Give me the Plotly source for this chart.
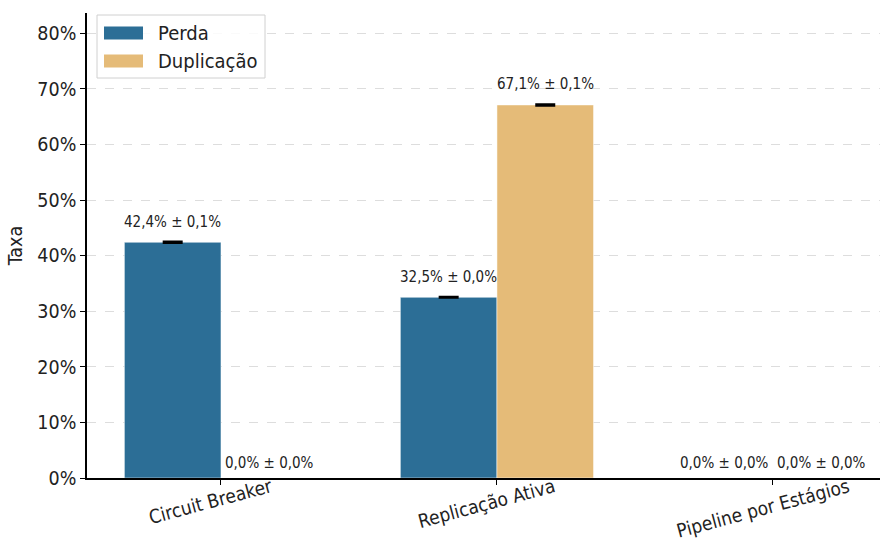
import plotly.graph_objects as go

categories = ["Circuit Breaker", "Replicação Ativa", "Pipeline por Estágios"]
series_names = ["Perda", "Duplicação"]
perda = [0.424, 0.325, 0.0]
perda_err = [0.001, 0.0005, 0.0]
dup = [0.0, 0.671, 0.0]
dup_err = [0.0, 0.001, 0.0]
labels_perda = ["42,4% ± 0,1%", "32,5% ± 0,0%", "0,0% ± 0,0%"]
labels_dup = ["0,0% ± 0,0%", "67,1% ± 0,1%", "0,0% ± 0,0%"]
y_ticks = [0, 0.1, 0.2, 0.3, 0.4, 0.5, 0.6, 0.7, 0.8]
y_ticktext = ["0%", "10%", "20%", "30%", "40%", "50%", "60%", "70%", "80%"]

FONT = "DejaVu Sans Condensed, DejaVu Sans, sans-serif"
C_PERDA = "#2c6e96"
C_DUP = "#e5bb78"
BW = 0.35

xs = list(range(len(categories)))

fig = go.Figure()
for vals, errs, nm, col, off in [(perda, perda_err, series_names[0], C_PERDA, -BW / 2),
                                 (dup, dup_err, series_names[1], C_DUP, BW / 2)]:
    bx = [x + off for x in xs]
    fig.add_trace(go.Bar(
        x=bx, y=vals, width=BW, name=nm,
        marker=dict(color=col, line=dict(color="white", width=0.5)),
        showlegend=False,
    ))
    # error bars only where a bar is visible (zero bars' caps are hidden by the axis in the reference)
    ex = [x for x, v in zip(bx, vals) if v > 0]
    ey = [v for v in vals if v > 0]
    ee = [e for v, e in zip(vals, errs) if v > 0]
    fig.add_trace(go.Scatter(
        x=ex, y=ey, mode="markers", marker=dict(size=0.1, color="rgba(0,0,0,0)"),
        error_y=dict(type="data", array=ee, color="black", thickness=2.5, width=10),
        showlegend=False, hoverinfo="skip",
    ))

annotations = []
for vals, errs, labs, off in [(perda, perda_err, labels_perda, -BW / 2), (dup, dup_err, labels_dup, BW / 2)]:
    for x, v, e, t in zip(xs, vals, errs, labs):
        annotations.append(dict(
            x=x + off, y=v + e, xref="x", yref="y", text=t, showarrow=False,
            yanchor="middle", yshift=20 if v > 0 else 15,
            font=dict(family=FONT, size=15, color="#222"),
        ))

# category labels, rotated and centred under their ticks
for x, c in zip(xs, categories):
    annotations.append(dict(
        x=x, y=0, xref="x", yref="paper", text=c, showarrow=False, textangle=-15,
        xanchor="center", yanchor="top", yshift=5, xshift=-10, borderpad=0,
        font=dict(family=FONT, size=19, color="#222"),
    ))

# custom legend (wide swatches like matplotlib)
shapes = [dict(type="rect", xref="paper", yref="paper",
               x0=(97 - 87) / 793, x1=(265 - 87) / 793, y0=(478 - 78) / 465, y1=(478 - 15) / 465,
               line=dict(color="#d0d0d0", width=1), fillcolor="rgba(255,255,255,0.85)", layer="above")]
for i, (nm, col) in enumerate(zip(series_names, [C_PERDA, C_DUP])):
    yc = 33 + 28 * i
    shapes.append(dict(type="rect", xref="paper", yref="paper",
                       x0=(104 - 87) / 793, x1=(143 - 87) / 793,
                       y0=(478 - yc - 6.5) / 465, y1=(478 - yc + 6.5) / 465,
                       fillcolor=col, line=dict(width=0), layer="above"))
    annotations.append(dict(x=(156 - 87) / 793, y=(478 - yc) / 465, xref="paper", yref="paper",
                            text=nm, showarrow=False, xanchor="left", yanchor="middle",
                            font=dict(family=FONT, size=20, color="#222")))

fig.update_layout(
    width=880, height=544,
    margin=dict(l=87, r=0, t=13, b=66),
    plot_bgcolor="white", paper_bgcolor="white",
    font=dict(family=FONT, size=19, color="#222"),
    barmode="overlay",
    annotations=annotations, shapes=shapes,
    xaxis=dict(
        range=[-0.4855, 2.388], tickmode="array", tickvals=xs, ticktext=["" for _ in xs],
        showgrid=False, zeroline=False, automargin=False,
        showline=True, linecolor="black", linewidth=1.5,
        ticks="outside", ticklen=5, tickcolor="black", tickwidth=1.2,
    ),
    yaxis=dict(
        range=[0, 0.8364], tickmode="array", tickvals=y_ticks, ticktext=y_ticktext,
        showgrid=True, gridcolor="#dddddd", griddash="dash", gridwidth=1, zeroline=False,
        showline=True, linecolor="black", linewidth=1.5, automargin=False,
        ticks="outside", ticklen=5, tickcolor="black", tickwidth=1.2,
        tickfont=dict(family=FONT, size=19.5),
        title=dict(text="Taxa", font=dict(family=FONT, size=19.5), standoff=10),
    ),
)

fig.write_html("out.html")
